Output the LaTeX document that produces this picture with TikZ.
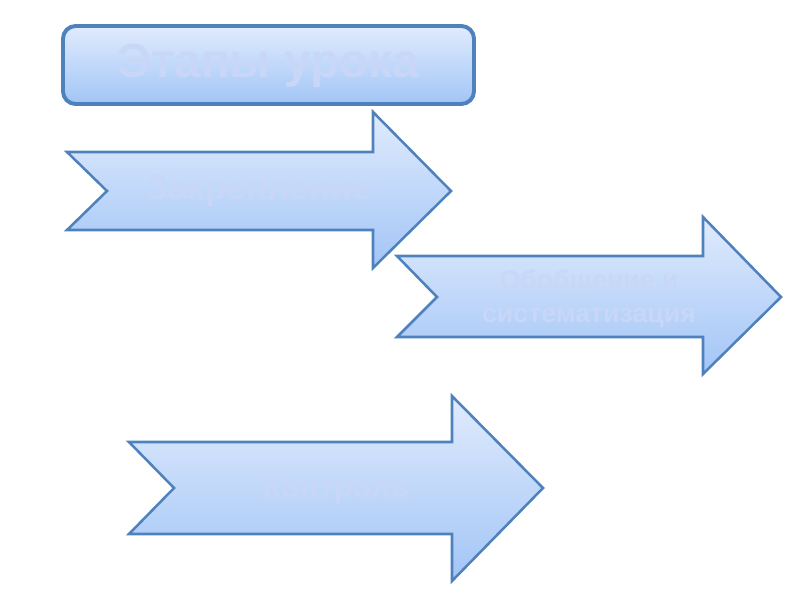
\documentclass[tikz,border=0pt]{standalone}
\usepackage{fontspec}
\setmainfont{Liberation Sans}
\usepackage{tikz}
\usetikzlibrary{positioning,calc}

\definecolor{edgeblue}{RGB}{79,129,189}
\definecolor{filltop}{RGB}{224,235,253}
\definecolor{fillbot}{RGB}{162,197,246}
\definecolor{textpale}{RGB}{200,215,248}

\begin{document}
\begin{tikzpicture}[
  x=0.025cm, y=-0.025cm,
  every node/.style={font=\bfseries, text=textpale, align=center},
  panel/.style={draw=edgeblue, line width=2.8pt, rounded corners=9pt,
    top color=filltop, bottom color=fillbot},
  arrowbody/.style={draw=edgeblue, line width=1.8pt, line join=miter,
    top color=filltop, bottom color=fillbot}
]
\useasboundingbox (0,0) rectangle (800,600);

% заголовок
\draw[panel] (63,26) rectangle (474,104);
\node[font=\bfseries\fontsize{34}{38}\selectfont] (title) at (268,66) {Этапы урока};

% первая стрелка
\draw[arrowbody] (67,152) -- (373,152) -- (373,112) -- (451,191)
  -- (373,268) -- (373,230) -- (67,230) -- (107,191) -- cycle;
\node[font=\bfseries\fontsize{25}{29}\selectfont] (fix) at (259,191) {Закрепление};

% вторая стрелка
\draw[arrowbody] (397,256) -- (703,256) -- (703,217) -- (781,297)
  -- (703,374) -- (703,337) -- (397,337) -- (437,297) -- cycle;
\node[font=\bfseries\fontsize{19}{23.5}\selectfont] (sum) at (589,299)
  {Обобщение и\\систематизация};

% третья стрелка
\draw[arrowbody] (129,442) -- (452,442) -- (452,396) -- (543,488)
  -- (452,581) -- (452,534) -- (129,534) -- (174,488) -- cycle;
\node[font=\bfseries\fontsize{22}{26}\selectfont] (ctrl) at (336,490) {Контроль};

\end{tikzpicture}
\end{document}
